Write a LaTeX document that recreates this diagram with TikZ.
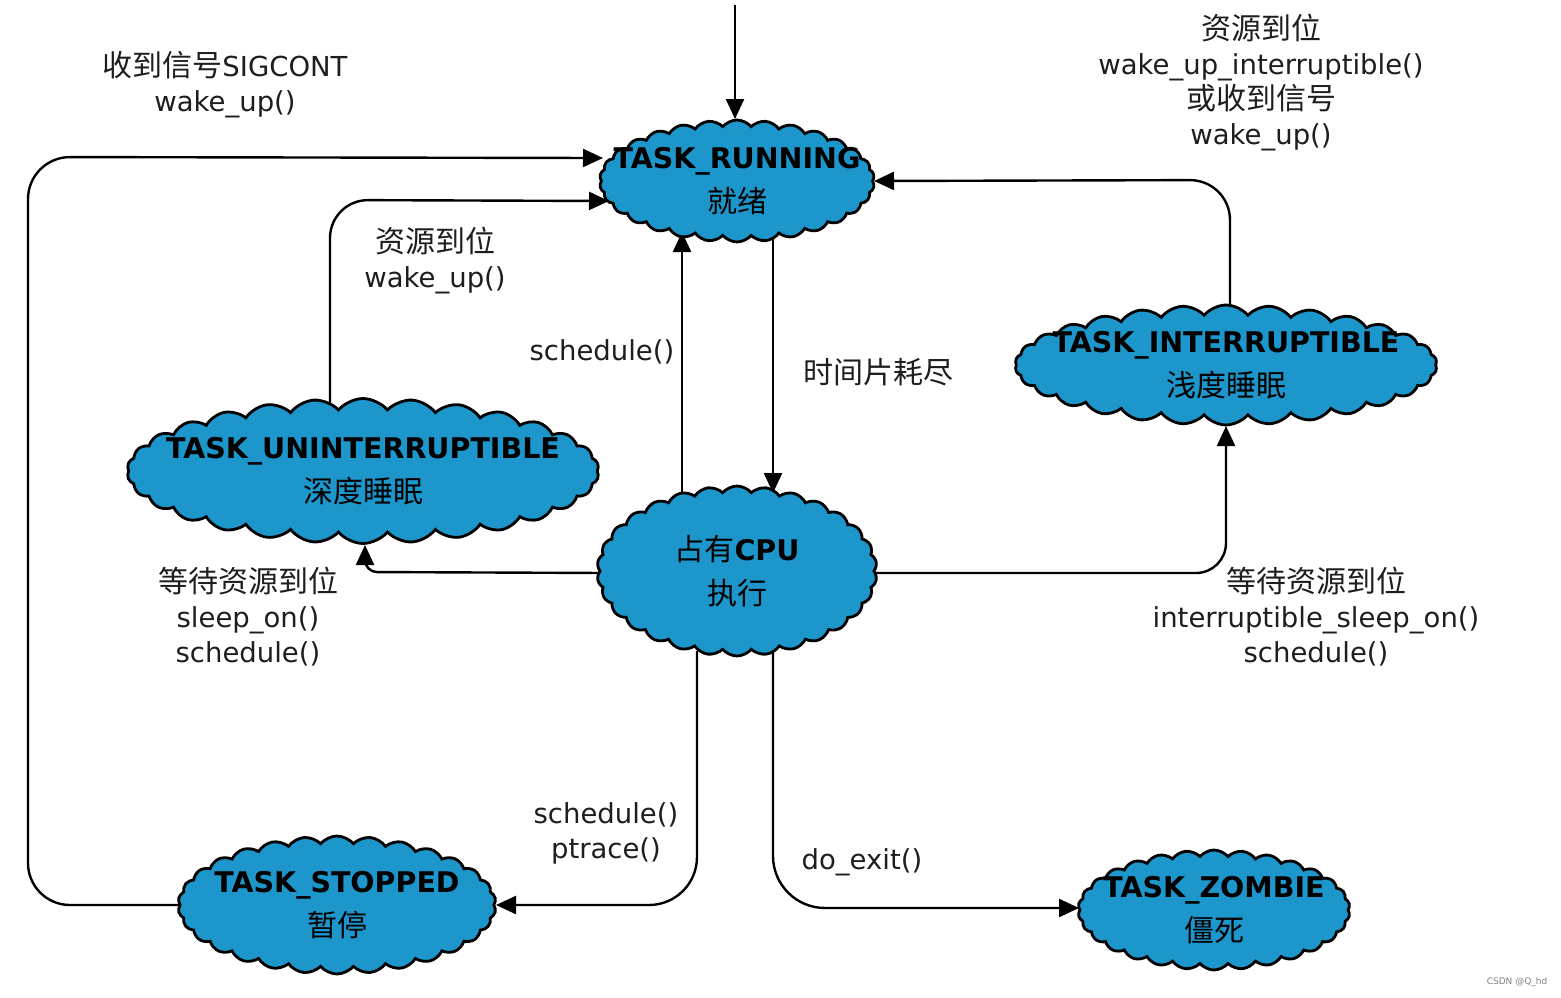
\documentclass[tikz,border=0pt]{standalone}
\usepackage{fontspec}
\setmainfont{DejaVu Sans}
\newfontfamily\cjk{Noto Sans CJK SC}
\usetikzlibrary{shapes.symbols,arrows.meta,calc}
\definecolor{cblue}{RGB}{28,150,203}
\definecolor{txt}{RGB}{30,30,30}
\pgfdeclarelayer{background}
\pgfsetlayers{background,main}
\tikzset{
  cloudbox/.style={cloud, cloud puffs=30, cloud puff arc=100, cloud ignores aspect,
    draw=black, line width=2.8pt, fill=cblue, inner sep=0pt},
  ctext/.style={align=center, inner sep=0pt, text=black,
    font=\fontsize{28.5}{44}\selectfont\bfseries},
  lbl/.style={align=center, text=txt, font=\fontsize{27.5}{35}\selectfont, inner sep=0pt},
  arr/.style={draw=black, line width=2.4pt, -{Triangle[length=20pt,width=18pt]}},
}
\newcommand{\zh}[1]{{\cjk\mdseries\fontsize{30}{44}\selectfont #1}}
\begin{document}
\begin{tikzpicture}[x=1pt,y=-1pt]
\useasboundingbox (0,0) rectangle (1561,997);
% clouds
\node[cloudbox, minimum width=275, minimum height=122] (run) at (737,181) {};
\node[cloudbox, minimum width=472, minimum height=145] (unint) at (363,471) {};
\node[cloudbox, minimum width=422, minimum height=120] (int) at (1226,365) {};
\node[cloudbox, minimum width=280, minimum height=170] (cpu) at (737,571) {};
\node[cloudbox, minimum width=318, minimum height=138] (stop) at (337,905) {};
\node[cloudbox, minimum width=272, minimum height=120] (zomb) at (1214,910) {};
% cloud texts
\node[ctext] (runT) at (run) {TASK\_RUNNING\\\zh{就绪}};
\node[ctext] (unintT) at (unint) {TASK\_UNINTERRUPTIBLE\\\zh{深度睡眠}};
\node[ctext] (intT) at (int) {TASK\_INTERRUPTIBLE\\\zh{浅度睡眠}};
\node[ctext] (cpuT) at (cpu) {\zh{占有}CPU\\\zh{执行}};
\node[ctext] (stopT) at (stop) {TASK\_STOPPED\\\zh{暂停}};
\node[ctext] (zombT) at (zomb) {TASK\_ZOMBIE\\\zh{僵死}};
% connectors
\coordinate (top) at (735,5);
\begin{pgfonlayer}{background}
\draw[arr] (top) -- ($(run)+(-2,-62)$);
\draw[arr, rounded corners=42] ($(stop)+(-150,0)$) -- (28,905) -- (28,157) -- ($(run)+(-134,-23)$);
\draw[arr, rounded corners=38] ($(unint)+(-33,-60)$) -- (330,200) -- ($(run)+(-128,20)$);
\draw[arr] ($(cpu)+(-55,-70)$) -- ($(run)+(-55,51)$);
\draw[arr] ($(run)+(36,50)$) -- ($(cpu)+(36,-78)$);
\draw[arr, rounded corners=40] ($(int)+(4,-50)$) -- (1230,180) -- ($(run)+(137,0)$);
\draw[arr, rounded corners=30] ($(cpu)+(130,2)$) -- (1226,573) -- ($(int)+(0,61)$);
\draw[arr, rounded corners=12] ($(cpu)+(-130,2)$) -- (365,572) -- ($(unint)+(2,74)$);
\draw[arr, rounded corners=48] ($(cpu)+(-40,80)$) -- (697,905) -- ($(stop)+(159,0)$);
\draw[arr, rounded corners=52] ($(cpu)+(36,80)$) -- (773,908) -- ($(zomb)+(-135,-2)$);
\end{pgfonlayer}
% labels
\node[lbl] (l1) at (225,85) {{\cjk\fontsize{30}{35}\selectfont 收到信号}SIGCONT\\wake\_up()};
\node[lbl] (l2) at (1261,83) {\zh{资源到位}\\wake\_up\_interruptible()\\\zh{或收到信号}\\wake\_up()};
\node[lbl] (l3) at (435,261) {\zh{资源到位}\\wake\_up()};
\node[lbl] (l4) at (602,352) {schedule()};
\node[lbl] (l5) at (878,372) {\zh{时间片耗尽}};
\node[lbl] (l6) at (248,617) {\zh{等待资源到位}\\sleep\_on()\\schedule()};
\node[lbl] (l7) at (1316,617) {\zh{等待资源到位}\\interruptible\_sleep\_on()\\schedule()};
\node[lbl] (l8) at (606,833) {schedule()\\ptrace()};
\node[lbl] (l9) at (862,862) {do\_exit()};
\node[text=gray, font=\fontsize{9}{10}\selectfont, inner sep=0pt] (wm) at (1517,982) {CSDN @Q\_hd};
\end{tikzpicture}
\end{document}
